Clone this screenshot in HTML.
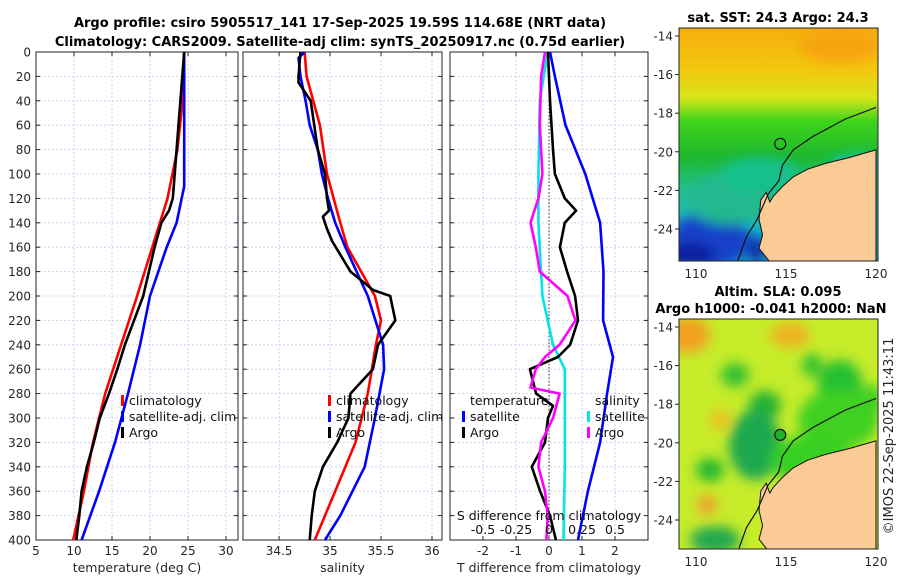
<!DOCTYPE html>
<html><head><meta charset="utf-8"><style>
body{margin:0;background:#fff;}
svg{display:block;font-family:"DejaVu Sans","Liberation Sans",sans-serif;}
</style></head><body>
<svg id="c" width="900" height="580" viewBox="0 0 900 580">
<defs>
<linearGradient id="sstg" x1="0" y1="0" x2="0" y2="1">
<stop offset="0" stop-color="#f6ad0c"/><stop offset="0.18" stop-color="#f2c810"/><stop offset="0.3" stop-color="#d7e51a"/><stop offset="0.4" stop-color="#3fd41a"/><stop offset="0.55" stop-color="#1fb82e"/><stop offset="0.7" stop-color="#22c090"/><stop offset="0.85" stop-color="#17b7c9"/><stop offset="1" stop-color="#12a8d0"/>
</linearGradient>
<filter id="bl"><feGaussianBlur stdDeviation="6"/></filter>
<clipPath id="m1c"><rect x="679" y="28" width="199" height="233"/></clipPath>
<clipPath id="m2c"><rect x="679" y="319" width="199" height="230"/></clipPath>
</defs>
<g font-weight="bold" font-size="13" text-anchor="middle" fill="#000">
<text x="340" y="27">Argo profile: csiro 5905517_141 17-Sep-2025 19.59S 114.68E (NRT data)</text>
<text x="340" y="46">Climatology: CARS2009. Satellite-adj clim: synTS_20250917.nc (0.75d earlier)</text>
<text x="778" y="22">sat. SST: 24.3 Argo: 24.3</text>
<text x="778" y="296">Altim. SLA: 0.095</text>
<text x="771" y="313">Argo h1000: -0.041 h2000: NaN</text>
</g>
<g id="plots"></g>
<text transform="translate(893,436) rotate(-90)" font-size="13" fill="#262626" text-anchor="middle">©IMOS 22-Sep-2025 11:43:11</text>
</svg>
<script>
// ---- data (depth in m) ----
var depthTicks=[0,20,40,60,80,100,120,140,160,180,200,220,240,260,280,300,320,340,360,380,400];
var tTicks=[5,10,15,20,25,30];
var sTicks=[34.5,35,35.5,36];
var dTicks=[-2,-1,0,1,2];
var dsTicks=[-0.5,-0.25,0,0.25,0.5];
var dsTickLabels=["-0.5","-0.25","0","0.25","0.5"];
// temperature
var tArgoZ=[0,40,80,120,130,140,160,200,240,260,280,300,320,340,360,380,400];
var tArgo=[24.5,24.0,23.5,23.0,22.5,21.5,20.6,19.1,16.7,15.7,14.6,13.4,12.6,11.7,11.0,10.7,10.3];
var tClimZ=[0,40,80,120,160,200,240,280,320,360,400];
var tClim=[24.5,24.3,23.6,22.3,20.3,18.3,16.2,14.1,12.5,11.3,9.9];
var tSatZ=[0,110,140,160,200,240,280,320,360,400];
var tSat=[24.5,24.5,23.5,22.2,20.0,18.7,17.1,15.4,13.3,11.0];
// salinity
var sArgoZ=[0,20,25,40,80,100,120,130,135,145,155,180,195,200,220,240,260,280,300,320,340,360,380,400];
var sArgo=[34.71,34.69,34.69,34.81,34.88,34.95,34.97,34.99,34.93,34.97,35.02,35.2,35.42,35.59,35.64,35.47,35.42,35.2,35.18,35.07,34.93,34.85,34.82,34.8];
var sClimZ=[0,20,60,100,140,160,200,220,240,280,320,360,400];
var sClim=[34.75,34.77,34.9,34.97,35.1,35.17,35.44,35.5,35.45,35.37,35.25,35.05,34.85];
var sSatZ=[0,5,20,40,60,80,100,120,140,160,200,240,260,300,340,380,400];
var sSat=[34.75,34.69,34.71,34.76,34.8,34.88,34.92,34.98,35.05,35.15,35.37,35.52,35.53,35.44,35.34,35.1,34.95];
// differences
var dTSatZ=[0,20,60,100,140,180,220,250,280,320,360,400];
var dTSat=[0.03,0.18,0.5,1.1,1.55,1.65,1.64,1.94,1.76,1.55,1.18,0.88];
var dTArgoZ=[0,40,80,100,120,130,140,160,180,200,220,240,250,260,280,290,300,320,340,360,380,400];
var dTArgo=[-0.03,0.03,0.12,0.18,0.48,0.82,0.48,0.33,0.55,0.79,0.88,0.64,0.27,-0.58,-0.39,0.12,-0.03,-0.12,-0.52,-0.27,0.03,0.21];
var dSSatZ=[0,40,100,140,200,240,260,300,340,400];
var dSSat=[-0.01,-0.07,-0.08,-0.08,-0.05,0.03,0.12,0.12,0.12,0.11];
var dSArgoZ=[0,20,60,100,120,140,160,180,200,220,240,250,260,275,280,300,320,340,360,380,400];
var dSArgo=[-0.03,-0.06,-0.07,-0.05,-0.08,-0.14,-0.1,-0.07,0.14,0.2,0.08,-0.03,-0.1,-0.14,0.08,0.03,-0.06,-0.08,-0.03,-0.01,-0.02];

var NS="http://www.w3.org/2000/svg";
var root=document.getElementById('plots');
function el(t,a,p){var e=document.createElementNS(NS,t);for(var k in a)e.setAttribute(k,a[k]);(p||root).appendChild(e);return e;}
var Y0=52,Y1=540;
function yS(z){return Y0+(z/400)*(Y1-Y0);}
function lin(d0,d1,r0,r1){return function(v){return r0+(v-d0)/(d1-d0)*(r1-r0);};}
var panels=[
 {x0:36,x1:238,sc:lin(5,31.58,36,238),ticks:tTicks,label:"temperature (deg C)",name:"temperature-panel"},
 {x0:243,x1:442,sc:lin(34.146,36.098,243,442),ticks:sTicks,label:"salinity",name:"salinity-panel"},
 {x0:450,x1:648,sc:lin(-3,3,450,648),ticks:dTicks,label:"T difference from climatology",name:"difference-panel"}
];
panels.forEach(function(p,i){
 var g=el('g',{});
 
 
 depthTicks.forEach(function(z){
  var l=el('line',{x1:p.x0,x2:p.x1,y1:yS(z),y2:yS(z),stroke:'#c4c8ec','stroke-width':0.8,'stroke-dasharray':'2,2'},g);
  
  
  el('line',{x1:p.x0,x2:p.x0+4,y1:yS(z),y2:yS(z),stroke:'#222'},g);
  el('line',{x1:p.x1,x2:p.x1-4,y1:yS(z),y2:yS(z),stroke:'#222'},g);
 });
 p.ticks.forEach(function(v){
  var x=p.sc(v);
  var l=el('line',{x1:x,x2:x,y1:Y0,y2:Y1,stroke:'#c4c8ec','stroke-width':0.8,'stroke-dasharray':'2,2'},g);
  
  
  el('line',{x1:x,x2:x,y1:Y1,y2:Y1-4,stroke:'#222'},g);
  el('line',{x1:x,x2:x,y1:Y0,y2:Y0+4,stroke:'#222'},g);
  var t=el('text',{x:x,y:Y1+15,'font-size':12,fill:'#262626','text-anchor':'middle'},g);
  t.textContent=String(v);
  
  
 });
 var xl=el('text',{x:(p.x0+p.x1)/2,y:572,'font-size':12.5,fill:'#262626','text-anchor':'middle'},g);
 xl.textContent=p.label;
 
 
 el('rect',{x:p.x0,y:Y0,width:p.x1-p.x0,height:Y1-Y0,fill:'none',stroke:'#222','stroke-width':1},g);
});
depthTicks.forEach(function(z){
 var t=el('text',{x:31,y:yS(z)+4.5,'font-size':12,fill:'#262626','text-anchor':'end'});
 t.textContent=String(z);
 
 
});
// zero line
var zl=el('line',{x1:549,x2:549,y1:Y0,y2:Y1,stroke:'#333','stroke-width':1,'stroke-dasharray':'1.5,2'});


var dsSc=lin(-0.5,0.5,483,615);
function line(zs,vs,sc,col,name){
 var d=zs.map(function(z,i){return (i?'L':'M')+sc(vs[i]).toFixed(1)+','+yS(z).toFixed(1);}).join('');
 var p=el('path',{d:d,fill:'none',stroke:col,'stroke-width':2.6,'stroke-linejoin':'round'});
 
 
}
line(tClimZ,tClim,panels[0].sc,'#ff0000','temperature-climatology-line');
line(tSatZ,tSat,panels[0].sc,'#0000ff','temperature-satellite-line');
line(tArgoZ,tArgo,panels[0].sc,'#000000','temperature-argo-line');
line(sClimZ,sClim,panels[1].sc,'#ff0000','salinity-climatology-line');
line(sSatZ,sSat,panels[1].sc,'#0000ff','salinity-satellite-line');
line(sArgoZ,sArgo,panels[1].sc,'#000000','salinity-argo-line');
line(dTSatZ,dTSat,panels[2].sc,'#0000ff','t-diff-satellite-line');
line(dSSatZ,dSSat,dsSc,'#00e5e5','s-diff-satellite-line');
line(dTArgoZ,dTArgo,panels[2].sc,'#000000','t-diff-argo-line');
line(dSArgoZ,dSArgo,dsSc,'#ff00ff','s-diff-argo-line');
// S axis labels
var st=el('text',{x:549,y:520,'font-size':12.5,fill:'#111','text-anchor':'middle'});
st.textContent='S difference from climatology';


dsTicks.forEach(function(v,i){
 var t=el('text',{x:dsSc(v),y:534,'font-size':12.5,fill:'#111','text-anchor':'middle'});
 t.textContent=dsTickLabels[i];
 
 
});
// legends
function leg(x,y,col,txt,name){
 var g=el('g',{});
 
 
 if(col) el('rect',{x:x,y:y-10,width:3,height:11,fill:col},g);
 var t=el('text',{x:x+(col?8:0),y:y,'font-size':12.5,fill:'#111'},g);
 t.textContent=txt;
}
leg(121,405,'#ff0000','climatology','legend-climatology');
leg(121,421,'#0000ff','satellite-adj. clim','legend-satellite');
leg(121,437,'#000000','Argo','legend-argo');
leg(328,405,'#ff0000','climatology','legend-climatology-s');
leg(328,421,'#0000ff','satellite-adj. clim','legend-satellite-s');
leg(328,437,'#000000','Argo','legend-argo-s');
leg(470,405,null,'temperature','legend-temperature-header');
leg(462,421,'#0000ff','satellite','legend-t-satellite');
leg(462,437,'#000000','Argo','legend-t-argo');
leg(595,405,null,'salinity','legend-salinity-header');
leg(587,421,'#00e5e5','satellite','legend-s-satellite');
leg(587,437,'#ff00ff','Argo','legend-s-argo');

// ---- maps ----
var lonTicks=[110,115,120];
var latTicks=[-14,-16,-18,-20,-22,-24];
var coastLon=[120,118.5,117.2,116.2,115.4,114.8,114.3,114.1,113.9,113.6,113.5,113.7,113.5,114.1,120];
var coastLat=[-19.9,-20.3,-20.6,-20.9,-21.3,-21.8,-22.3,-22.6,-22.1,-22.5,-23.5,-24.3,-25,-25.7,-25.7];
var isoLon=[120,118.3,116.5,115.4,114.8,114.6,114.0,113.4,112.8,112.3];
var isoLat=[-17.7,-18.3,-19.2,-19.9,-20.7,-21.5,-22.2,-23.5,-24.4,-25.7];
var floatLon=114.68, floatLat=-19.59;
var lonSc=lin(110,120,696,876);
function map(top,latTop,clip,fill,name){
 var latSc=lin(-14,-24,latTop,latTop+193);
 var g=el('g',{});
 
 
 var cg=el('g',{'clip-path':'url(#'+clip+')'},g);
 fill(cg,latSc);
 var d=coastLon.map(function(l,i){return (i?'L':'M')+lonSc(l).toFixed(1)+','+latSc(coastLat[i]).toFixed(1);}).join('')+'Z';
 var land=el('path',{d:d,fill:'#fbcb95',stroke:'#111','stroke-width':1},cg);
 
 
 var d2=isoLon.map(function(l,i){return (i?'L':'M')+lonSc(l).toFixed(1)+','+latSc(isoLat[i]).toFixed(1);}).join('');
 var iso=el('path',{d:d2,fill:'none',stroke:'#111','stroke-width':1.2},cg);
 
 
 var c=el('circle',{cx:lonSc(floatLon),cy:latSc(floatLat),r:5.5,fill:name=='sla-map'?'#22b030':'none',stroke:'#111','stroke-width':1.2},g);
 
 
 el('rect',{x:679,y:top,width:199,height:(clip=='m1c'?233:230),fill:'none',stroke:'#222'},g);
 lonTicks.forEach(function(v){
  var t=el('text',{x:lonSc(v),y:top+(clip=='m1c'?233:230)+17,'font-size':12,fill:'#262626','text-anchor':'middle'},g);
  t.textContent=String(v);
  
  
 });
 latTicks.forEach(function(v){
  var t=el('text',{x:673,y:latSc(v)+4.5,'font-size':12,fill:'#262626','text-anchor':'end'},g);
  t.textContent=String(v);
  
  
  el('line',{x1:675,x2:679,y1:latSc(v),y2:latSc(v),stroke:'#222'},g);
 });
}
map(28,36,'m1c',function(g,ls){
 el('rect',{x:679,y:28,width:199,height:233,fill:'url(#sstg)'},g);
 var b=el('g',{filter:'url(#bl)'},g);
 el('ellipse',{cx:840,cy:45,rx:40,ry:18,fill:'#f6a40a'},b);
 el('ellipse',{cx:710,cy:240,rx:40,ry:28,fill:'#1340c8'},b);
 el('ellipse',{cx:690,cy:255,rx:25,ry:12,fill:'#0a1ea0'},b);
 el('ellipse',{cx:730,cy:200,rx:45,ry:25,fill:'#20b890'},b);
 el('ellipse',{cx:760,cy:175,rx:40,ry:18,fill:'#12c08a'},b);
 el('ellipse',{cx:860,cy:165,rx:30,ry:10,fill:'#14c4c0'},b);
 el('ellipse',{cx:757,cy:250,rx:8,ry:14,fill:'#0a20a0'},b);
},'sst-map');
map(319,327,'m2c',function(g,ls){
 el('rect',{x:679,y:319,width:199,height:230,fill:'#c6ec2a'},g);
 var b=el('g',{filter:'url(#bl)'},g);
 [[688,335,22,18,'#f2a020'],[790,335,20,12,'#f0b020'],[840,385,22,25,'#20c030'],[765,405,16,14,'#20b030'],[735,375,14,12,'#30c030'],[755,445,26,35,'#1aa850'],[710,470,14,12,'#28b830'],[707,505,10,10,'#f0a030'],[715,540,25,14,'#20a850'],[720,420,10,10,'#f0c020'],[812,365,10,12,'#30c030'],[838,420,40,30,'#40d020'],[810,460,40,25,'#38d020'],[872,400,10,16,'#38d020']].forEach(function(e){
  el('ellipse',{cx:e[0],cy:e[1],rx:e[2],ry:e[3],fill:e[4]},b);
 });
},'sla-map');
</script>
</body></html>
